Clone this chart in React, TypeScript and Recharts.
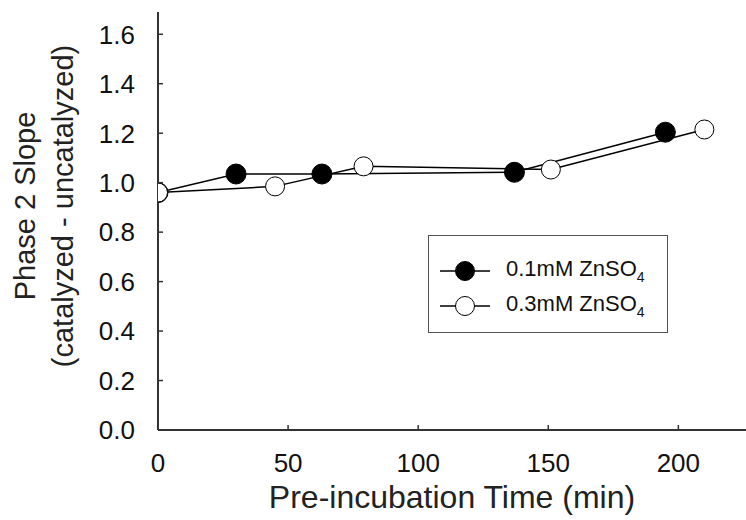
import React from 'react';
import { LineChart, Line, XAxis, YAxis, Legend, Label } from 'recharts';

const timesLow = [0, 30, 63, 137, 195];
const slopesLow = [0.96, 1.035, 1.035, 1.042, 1.204];
const timesHigh = [0, 45, 79, 151, 210];
const slopesHigh = [0.96, 0.985, 1.066, 1.053, 1.215];

const xTicks = [0, 50, 100, 150, 200];
const yTicks = [0, 0.2, 0.4, 0.6, 0.8, 1.0, 1.2, 1.4, 1.6];

const lowData = timesLow.map((t, i) => ({ time: t, slope: slopesLow[i] }));
const highData = timesHigh.map((t, i) => ({ time: t, slope: slopesHigh[i] }));

const FONT = '"Liberation Sans", Arial, sans-serif';
const AXIS = '#333333';

const BottomTick = (props: any) => {
  const { x, y, payload } = props;
  return (
    <g>
      <line x1={x} x2={x} y1={y} y2={y - 5} stroke={AXIS} strokeWidth={1.5} />
      <text x={x} y={y + 42} textAnchor="middle" fontSize={26} fontFamily={FONT} fill="#111">
        {payload.value}
      </text>
    </g>
  );
};

const TopTick = (props: any) => {
  const { x, y } = props;
  return <line x1={x} x2={x} y1={y} y2={y + 5} stroke={AXIS} strokeWidth={1.5} />;
};

const LeftTick = (props: any) => {
  const { x, y, payload } = props;
  return (
    <g>
      <line x1={x} x2={x + 5} y1={y} y2={y} stroke={AXIS} strokeWidth={1.5} />
      <text x={x - 23} y={y} dy="0.36em" textAnchor="end" fontSize={26} fontFamily={FONT} fill="#111">
        {Number(payload.value).toFixed(1)}
      </text>
    </g>
  );
};

const YTitle = () => (
  <g fontFamily={FONT} fontSize={29} fill="#222" textAnchor="middle">
    <text transform="translate(35,206) rotate(-90)">Phase 2 Slope</text>
    <text transform="translate(73,206) rotate(-90)">(catalyzed - uncatalyzed)</text>
  </g>
);

const LegendBox = (props: any) => {
  const { payload } = props;
  return (
    <div
      style={{
        width: 240,
        height: 98,
        boxSizing: 'border-box',
        border: '1.5px solid #555',
        background: '#fff',
        paddingTop: 17,
        fontFamily: FONT,
      }}
    >
      {(payload || []).map((entry: any) => (
        <div key={entry.value} style={{ display: 'flex', alignItems: 'center', height: 35 }}>
          <svg width={77} height={30} style={{ display: 'block' }}>
            <line x1={11} x2={61} y1={15} y2={15} stroke="#000" strokeWidth={1.5} />
            <circle cx={36} cy={15} r={9.5} fill={entry.payload.fill} stroke="#000" strokeWidth={1} />
          </svg>
          <span style={{ fontSize: 22, color: '#111', whiteSpace: 'nowrap' }}>
            {entry.value}
            <sub style={{ fontSize: 14, color: '#111', verticalAlign: '-6px' }}>4</sub>
          </span>
        </div>
      ))}
    </div>
  );
};

export default function App() {
  return (
    <div style={{ position: 'absolute', left: 0, top: 0, background: '#fff' }}>
      <LineChart width={746} height={520} margin={{ top: 12, right: 0, bottom: 0, left: 0 }}>
        <XAxis
          dataKey="time"
          type="number"
          domain={[0, 226]}
          ticks={xTicks}
          allowDataOverflow
          height={90}
          stroke={AXIS}
          strokeWidth={2}
          tickLine={false}
          tickSize={0}
          tickMargin={0}
          tick={<BottomTick />}
        >
          <Label
            value="Pre-incubation Time (min)"
            position="insideBottom"
            offset={12}
            style={{ fontSize: 32, fontFamily: FONT, fill: '#222' }}
          />
        </XAxis>
        <XAxis
          xAxisId="top"
          orientation="top"
          dataKey="time"
          type="number"
          domain={[0, 226]}
          ticks={xTicks}
          allowDataOverflow
          height={0}
          stroke={AXIS}
          strokeWidth={2}
          tickLine={false}
          tickSize={0}
          tickMargin={0}
          tick={<TopTick />}
        />
        <YAxis
          type="number"
          domain={[0, 1.69]}
          ticks={yTicks}
          allowDataOverflow
          width={158}
          stroke={AXIS}
          strokeWidth={2}
          tickLine={false}
          tickSize={0}
          tickMargin={0}
          tick={<LeftTick />}
        >
          <Label content={<YTitle />} />
        </YAxis>
        <Legend
          layout="horizontal"
          verticalAlign="middle"
          align="center"
          width={240}
          height={98}
          wrapperStyle={{ left: 428, top: 235, width: 240, height: 98 }}
          content={<LegendBox />}
        />
        <Line
          data={lowData}
          dataKey="slope"
          name="0.1mM ZnSO"
          stroke="#000"
          strokeWidth={1.5}
          fill="#000"
          dot={{ r: 10, fill: '#000', stroke: '#000', strokeWidth: 1 }}
          isAnimationActive={false}
        />
        <Line
          data={highData}
          dataKey="slope"
          name="0.3mM ZnSO"
          stroke="#000"
          strokeWidth={1.5}
          fill="#fff"
          dot={{ r: 9.5, fill: '#fff', stroke: '#000', strokeWidth: 1 }}
          isAnimationActive={false}
        />
      </LineChart>
    </div>
  );
}
